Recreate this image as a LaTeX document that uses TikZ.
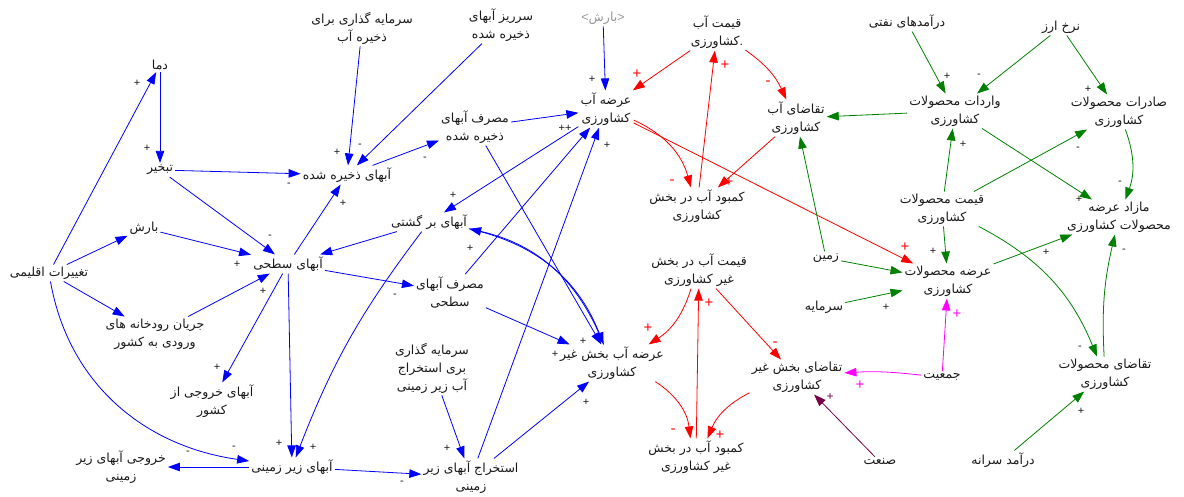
\documentclass[tikz,border=0pt]{standalone}
\usepackage{fontspec}
\setmainfont{Liberation Sans}
\newfontfamily\arabicfont[Script=Arabic]{DejaVu Sans}
\TeXXeTstate=1
\usetikzlibrary{arrows.meta}
\newcommand{\fa}[1]{\beginR #1\endR}
\definecolor{cblue}{RGB}{0,0,255}
\definecolor{cred}{RGB}{255,0,0}
\definecolor{cgreen}{RGB}{0,128,0}
\definecolor{cmag}{RGB}{255,0,255}
\definecolor{cpur}{RGB}{120,0,70}
\definecolor{ctxt}{RGB}{25,25,25}
\definecolor{cgray}{RGB}{150,150,150}
\tikzset{
  lnk/.style={line width=0.8pt,-{Triangle[length=12pt,width=8.5pt]}},
  bl/.style={lnk,draw=cblue},
  rd/.style={lnk,draw=cred},
  gr/.style={lnk,draw=cgreen},
  mg/.style={lnk,draw=cmag},
  pp/.style={lnk,draw=cpur},
  nd/.style={font=\arabicfont\fontsize{12.5}{18}\selectfont,text=ctxt,align=center,inner sep=2pt},
  sg/.style={font=\fontsize{11}{11}\selectfont,text=ctxt,inner sep=0pt},
  sgr/.style={font=\fontsize{15}{15}\selectfont,text=cred,inner sep=0pt},
  sgm/.style={font=\fontsize{15}{15}\selectfont,text=cmag,inner sep=0pt},
  sgp/.style={font=\fontsize{12}{12}\selectfont,text=cpur,inner sep=0pt},
}
\begin{document}
\begin{tikzpicture}[x=1pt,y=-1pt]
\useasboundingbox (0,0) rectangle (1184,496);
% ---------- nodes ----------
\node[nd] (dama) at (160,65) {\fa{دما}};
\node[nd] (tabkhir) at (160,170) {\fa{تبخیر}};
\node[nd] (barsh) at (144,228) {\fa{بارش}};
\node[nd] (taghir) at (49,273) {\fa{تغییرات اقلیمی}};
\node[nd] (sathi) at (288,264) {\fa{آبهای سطحی}};
\node[nd] (zakhire) at (347,175) {\fa{آبهای ذخیره شده}};
\node[nd] (sarmzak) at (362,28) {\fa{سرمایه گذاری برای}\\\fa{ذخیره آب}};
\node[nd] (sarriz) at (501,25) {\fa{سرریز آبهای}\\\fa{ذخیره شده}};
\node[nd] (masrafzak) at (475,127) {\fa{مصرف آبهای}\\\fa{ذخیره شده}};
\node[nd] (bargashti) at (429,222) {\fa{آبهای بر گشتی}};
\node[nd] (arzeag) at (606,109) {\fa{عرضه آب}\\\fa{کشاورزی}};
\node[nd,text=cgray] (barshb) at (603,18) {{\normalfont\textless}\fa{بارش}{\normalfont\textgreater}};
\node[nd] (gheymatag) at (717,32) {\fa{قیمت آب}\\\fa{کشاورزی}{\normalfont.}};
\node[nd] (taghazaag) at (796,118) {\fa{تقاضای آب}\\\fa{کشاورزی}};
\node[nd] (kambodag) at (697,206) {\fa{کمبود آب در بخش}\\\fa{کشاورزی}};
\node[nd] (naft) at (907,22) {\fa{درآمدهای نفتی}};
\node[nd] (arz) at (1061,27) {\fa{نرخ ارز}};
\node[nd] (varedat) at (955,111) {\fa{واردات محصولات}\\\fa{کشاورزی}};
\node[nd] (saderat) at (1119,112) {\fa{صادرات محصولات}\\\fa{کشاورزی}};
\node[nd] (gheymatmah) at (942,209) {\fa{قیمت محصولات}\\\fa{کشاورزی}};
\node[nd] (mazad) at (1119,217) {\fa{مازاد عرضه}\\\fa{محصولات کشاورزی}};
\node[nd] (zamin) at (826,258) {\fa{زمین}};
\node[nd] (arzemah) at (948,281) {\fa{عرضه محصولات}\\\fa{کشاورزی}};
\node[nd] (sarmaye) at (824,307) {\fa{سرمایه}};
\node[nd] (jamiat) at (942,377) {\fa{جمعیت}};
\node[nd] (taghazamah) at (1105,374) {\fa{تقاضای محصولات}\\\fa{کشاورزی}};
\node[nd] (daramad) at (1003,460) {\fa{درآمد سرانه}};
\node[nd] (sanat) at (880,462) {\fa{صنعت}};
\node[nd] (taghazagh) at (797,377) {\fa{تقاضای بخش غیر}\\\fa{کشاورزی}};
\node[nd] (gheymatgh) at (699,270) {\fa{قیمت آب در بخش}\\\fa{غیر کشاورزی}};
\node[nd] (arzegh) at (612,363) {\fa{عرضه آب بخش غیر}\\\fa{کشاورزی}};
\node[nd] (kambodgh) at (696,457) {\fa{کمبود آب در بخش}\\\fa{غیر کشاورزی}};
\node[nd] (masrafsat) at (450,292) {\fa{مصرف آبهای}\\\fa{سطحی}};
\node[nd] (sarmestekh) at (432,368) {\fa{سرمایه گذاری}\\\fa{بری استخراج}\\\fa{آب زیر زمینی}};
\node[nd] (estekhraj) at (471,477) {\fa{استخراج آبهای زیر}\\\fa{زمینی}};
\node[nd] (zirzamini) at (292,467) {\fa{آبهای زیر زمینی}};
\node[nd] (khoruji) at (121,467) {\fa{خروجی آبهای زیر}\\\fa{زمینی}};
\node[nd] (khkeshvar) at (212,401) {\fa{آبهای خروجی از}\\\fa{کشور}};
\node[nd] (jarian) at (155,334) {\fa{جریان رودخانه های}\\\fa{ورودی به کشور}};
% ---------- blue links ----------
\draw[bl] (taghir) -- (dama);
\draw[bl] (dama) -- (tabkhir);
\draw[bl] (tabkhir) -- (zakhire);
\draw[bl] (tabkhir) -- (sathi);
\draw[bl] (barsh) -- (sathi);
\draw[bl] (taghir) -- (barsh);
\draw[bl] (taghir) -- (jarian);
\draw[bl] (jarian) -- (sathi);
\draw[bl] (sathi) -- (khkeshvar);
\draw[bl] (sathi) -- (zirzamini);
\draw[bl] (taghir) to[out=-80,in=172] (zirzamini);
\draw[bl] (zirzamini) -- (khoruji);
\draw[bl] (zirzamini) -- (estekhraj);
\draw[bl] (sarmestekh) -- (estekhraj);
\draw[bl] (estekhraj) -- (arzegh);
\draw[bl] (estekhraj) -- (arzeag);
\draw[bl] (sathi) -- (zakhire);
\draw[bl] (sathi) -- (masrafsat);
\draw[bl] (bargashti) -- (sathi);
\draw[bl] (bargashti) to[bend right=8] (zirzamini);
\draw[bl] (sarmzak) -- (zakhire);
\draw[bl] (sarriz) -- (zakhire);
\draw[bl] (zakhire) -- (masrafzak);
\draw[bl] (masrafzak) -- (arzeag);
\draw[bl] (masrafzak) -- (arzegh);
\draw[bl] (arzeag) -- (bargashti);
\draw[bl] (masrafsat) -- (arzeag);
\draw[bl] (masrafsat) -- (arzegh);
\draw[bl] (bargashti) to[bend left=28] (arzegh);
\draw[bl] (arzegh) to[bend right=28] (bargashti);
\draw[bl] (barshb) -- (arzeag);
% ---------- red links ----------
\draw[rd] (gheymatag) -- (arzeag);
\draw[rd] (gheymatag) to[bend left=15] (taghazaag);
\draw[rd] (arzeag) to[bend left=25] (kambodag);
\draw[rd] (taghazaag) -- (kambodag);
\draw[rd] (kambodag) -- (gheymatag);
\draw[rd] (arzeag) -- (arzemah);
\draw[rd] (gheymatgh) to[bend left=20] (arzegh);
\draw[rd] (gheymatgh) -- (taghazagh);
\draw[rd] (arzegh) to[bend left=25] (kambodgh);
\draw[rd] (taghazagh) to[bend right=20] (kambodgh);
\draw[rd] (kambodgh) -- (gheymatgh);
% ---------- green links ----------
\draw[gr] (naft) -- (varedat);
\draw[gr] (arz) -- (varedat);
\draw[gr] (arz) -- (saderat);
\draw[gr] (varedat) -- (taghazaag);
\draw[gr] (gheymatmah) -- (varedat);
\draw[gr] (gheymatmah) -- (saderat);
\draw[gr] (varedat) -- (mazad);
\draw[gr] (saderat) to[bend left=20] (mazad);
\draw[gr] (gheymatmah) -- (arzemah);
\draw[gr] (gheymatmah) to[bend left=20] (taghazamah);
\draw[gr] (arzemah) -- (mazad);
\draw[gr] (taghazamah) to[bend left=8] (mazad);
\draw[gr] (zamin) -- (arzemah);
\draw[gr] (zamin) -- (taghazaag);
\draw[gr] (sarmaye) -- (arzemah);
\draw[gr] (daramad) -- (taghazamah);
% ---------- magenta / purple ----------
\draw[mg] (jamiat) -- (arzemah);
\draw[mg] (jamiat) to[bend right=5] (taghazagh);
\draw[pp] (sanat) -- (taghazagh);
% ---------- polarity signs ----------
\foreach \x/\y/\t [count=\i] in {137/83/+,147/148/+,289/185/-,270/237/-,237/264/+,263/291/+,217/367/+,279/443/+,313/447/+,234/448/-,188/453/-,402/483/-,447/448/+,586/402/+,343/203/+,395/296/-,337/152/+,360/146/-,425/159/-,565/128/++,607/145/+,592/79/+,453/195/+,470/248/+,583/341/+,555/354/+,947/76/+,979/76/-,1088/89/+,963/144/+,1078/149/-,1079/199/+,1120/183/-,933/251/+,1080/348/-,1046/252/+,1124/251/-,886/307/+,1081/411/+}
  \node[sg] (s\i) at (\x,\y) {\t};
\foreach \x/\y/\t [count=\i] in {637/74/+,768/83/-,672/182/-,729/182/+,725/65/+,905/247/+,648/328/+,775/344/-,673/431/-,720/435/+,709/303/+}
  \node[sgr] (r\i) at (\x,\y) {\t};
\node[sgm] (m1) at (957,314) {+};
\node[sgm] (m2) at (860,385) {+};
\node[sgp] (p1) at (830,397) {+};
\end{tikzpicture}
\end{document}
